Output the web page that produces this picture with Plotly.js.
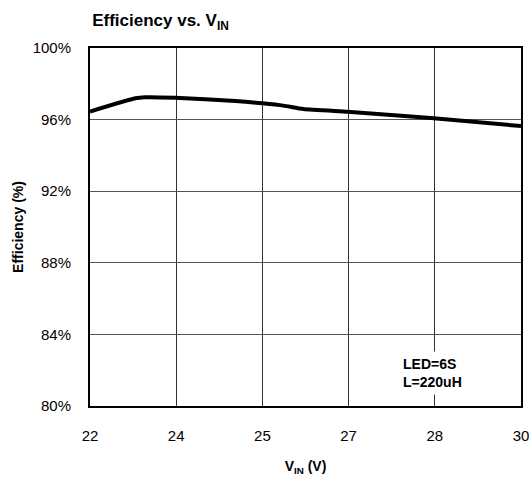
<!DOCTYPE html>
<html>
<head>
<meta charset="utf-8">
<script src="https://cdn.plot.ly/plotly-3.0.1.min.js"></script>
<style>html,body{margin:0;padding:0;background:#fff;}#chart{width:529px;height:483px;}</style>
</head>
<body>
<div id="chart"></div>
<script>
// Data
const vin = [22.0, 22.84, 23.02, 23.58, 24.70, 25.20, 25.59, 25.96, 26.78, 27.40, 28.38, 30.0];
const efficiency = [96.45, 97.19, 97.25, 97.22, 97.04, 96.91, 96.78, 96.59, 96.44, 96.30, 96.07, 95.64];
const xTickVals = [22, 23.6, 25.2, 26.8, 28.4, 30];
const xTickText = ['22', '24', '25', '27', '28', '30'];
const yTickVals = [80, 84, 88, 92, 96, 100];

const FONT = '"Liberation Sans", Arial, sans-serif';

const trace = {
  x: vin, y: efficiency, type: 'scatter', mode: 'lines',
  line: {color: '#000', width: 4, shape: 'spline', smoothing: 0.5},
  hoverinfo: 'none'
};

const layout = {
  width: 529, height: 483,
  margin: {l: 90, r: 8, t: 48, b: 77},
  paper_bgcolor: '#fff', plot_bgcolor: '#fff',
  showlegend: false,
  font: {family: FONT, color: '#000', size: 15},
  title: {
    text: '<b>Efficiency vs. V<sub>IN</sub></b>',
    font: {family: FONT, size: 17, color: '#000'},
    xref: 'paper', x: 0.005, xanchor: 'left',
    yref: 'container', y: 0.958, yanchor: 'middle'
  },
  xaxis: {
    range: [22, 30], tickmode: 'array', tickvals: xTickVals, ticktext: xTickText,
    showgrid: true, gridcolor: '#333', gridwidth: 1,
    showline: true, linecolor: '#000', linewidth: 2, mirror: true,
    ticks: '', ticklabelstandoff: 15, zeroline: false, ticklabeloverflow: 'allow',
    tickfont: {family: FONT, size: 15, color: '#000'},
    title: {text: '<b>V<sub>IN</sub> (V)</b>', font: {family: FONT, size: 14, color: '#000'}, standoff: 18}
  },
  yaxis: {
    range: [80, 100], tickmode: 'array', tickvals: yTickVals,
    ticktext: yTickVals.map(v => v + '%'),
    showgrid: true, gridcolor: '#555', gridwidth: 1,
    showline: true, linecolor: '#000', linewidth: 2, mirror: true,
    ticks: '', ticklabelstandoff: 14, zeroline: false, ticklabeloverflow: 'allow',
    tickfont: {family: FONT, size: 15, color: '#000'},
    title: {text: '<b>Efficiency (%)</b>', font: {family: FONT, size: 14, color: '#000'}, standoff: 6}
  },
  annotations: [{
    xref: 'paper', yref: 'paper', x: 0.715, y: 0.092,
    xanchor: 'left', yanchor: 'middle', align: 'left',
    text: '<b>LED=6S<br>L=220uH</b>',
    showarrow: false, bgcolor: '#fff', borderpad: 4,
    font: {family: FONT, size: 14, color: '#000'}
  }]
};

Plotly.newPlot('chart', [trace], layout, {displayModeBar: false, staticPlot: true});
</script>
</body>
</html>
